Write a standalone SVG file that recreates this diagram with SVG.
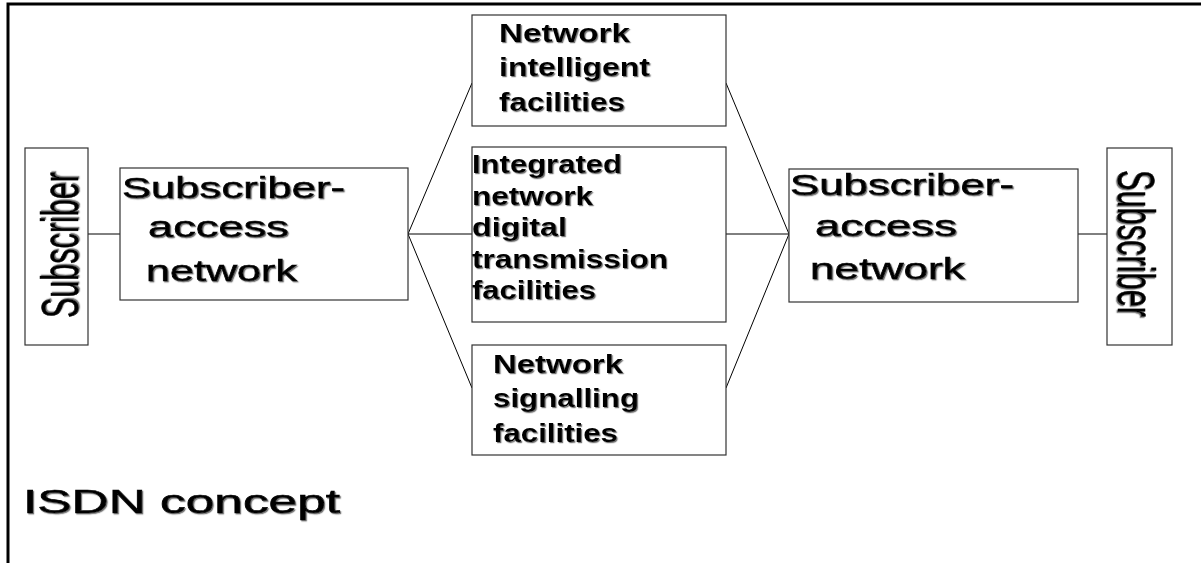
<svg xmlns="http://www.w3.org/2000/svg" width="1201" height="563" viewBox="0 0 1201 563">
<defs>
<filter id="sh" x="-5%" y="-10%" width="110%" height="130%">
<feDropShadow dx="1.2" dy="1.2" stdDeviation="0.4" flood-color="#666" flood-opacity="0.9"/>
</filter>
</defs>
<style>
.box{fill:#fff;stroke:#333;stroke-width:1.2}
.ln{stroke:#000;stroke-width:1;fill:none}
.t{font-family:"Liberation Sans",Arial,sans-serif;fill:#000;filter:url(#sh)}
.rg{stroke:#000;stroke-width:0.6}
.r30{font-size:30px}
.b25{font-size:25px;font-weight:bold}
.b26{font-size:26px;font-weight:bold}
.frame{stroke:#000;stroke-width:3;fill:none}
</style>
<rect width="1201" height="563" fill="#fff"/>
<path class="frame" d="M8,563 V4 H1201"/>
<g id="connectors">
<line class="ln" x1="88" y1="234" x2="120" y2="234"/>
<line class="ln" x1="408" y1="234" x2="472" y2="83"/>
<line class="ln" x1="408" y1="234" x2="472" y2="234"/>
<line class="ln" x1="408" y1="234" x2="472" y2="388"/>
<line class="ln" x1="726" y1="83" x2="789" y2="234"/>
<line class="ln" x1="726" y1="234" x2="789" y2="234"/>
<line class="ln" x1="726" y1="388" x2="789" y2="234"/>
<line class="ln" x1="1078" y1="234" x2="1107" y2="234"/>
</g>
<g id="subscriber-left">
<rect class="box" x="25" y="148" width="63" height="197"/>
<text class="t rg" font-size="52" transform="translate(78,318) rotate(-90)" textLength="146" lengthAdjust="spacingAndGlyphs">Subscriber</text>
</g>
<g id="access-left">
<rect class="box" x="120" y="168" width="288" height="132"/>
<text class="t rg r30" x="122" y="198" textLength="223" lengthAdjust="spacingAndGlyphs">Subscriber-</text>
<text class="t rg r30" x="148" y="237" textLength="141" lengthAdjust="spacingAndGlyphs">access</text>
<text class="t rg r30" x="146" y="281" textLength="151" lengthAdjust="spacingAndGlyphs">network</text>
</g>
<g id="intelligent">
<rect class="box" x="472" y="15" width="254" height="111"/>
<text class="t b25" x="499" y="42" textLength="131" lengthAdjust="spacingAndGlyphs">Network</text>
<text class="t b25" x="499" y="76" textLength="151" lengthAdjust="spacingAndGlyphs">intelligent</text>
<text class="t b25" x="499" y="111" textLength="126" lengthAdjust="spacingAndGlyphs">facilities</text>
</g>
<g id="transmission">
<rect class="box" x="472" y="147" width="254" height="175"/>
<text class="t b26" x="472" y="173" textLength="150" lengthAdjust="spacingAndGlyphs">Integrated</text>
<text class="t b26" x="472" y="205" textLength="121" lengthAdjust="spacingAndGlyphs">network</text>
<text class="t b26" x="472" y="236" textLength="95" lengthAdjust="spacingAndGlyphs">digital</text>
<text class="t b26" x="472" y="268" textLength="196" lengthAdjust="spacingAndGlyphs">transmission</text>
<text class="t b26" x="472" y="299" textLength="124" lengthAdjust="spacingAndGlyphs">facilities</text>
</g>
<g id="signalling">
<rect class="box" x="472" y="345" width="254" height="110"/>
<text class="t b25" x="493" y="373" textLength="130" lengthAdjust="spacingAndGlyphs">Network</text>
<text class="t b25" x="493" y="407" textLength="146" lengthAdjust="spacingAndGlyphs">signalling</text>
<text class="t b25" x="493" y="442" textLength="125" lengthAdjust="spacingAndGlyphs">facilities</text>
</g>
<g id="access-right">
<rect class="box" x="789" y="169" width="289" height="133"/>
<text class="t rg r30" x="790" y="195" textLength="224" lengthAdjust="spacingAndGlyphs">Subscriber-</text>
<text class="t rg r30" x="815" y="236" textLength="142" lengthAdjust="spacingAndGlyphs">access</text>
<text class="t rg r30" x="810" y="279" textLength="155" lengthAdjust="spacingAndGlyphs">network</text>
</g>
<g id="subscriber-right">
<rect class="box" x="1107" y="148" width="65" height="197"/>
<text class="t rg" font-size="52" transform="translate(1118,170) rotate(90)" textLength="147" lengthAdjust="spacingAndGlyphs">Subscriber</text>
</g>
<g id="title">
<text class="t rg" font-size="33" x="23" y="513" textLength="317" lengthAdjust="spacingAndGlyphs">ISDN  concept</text>
</g>
</svg>
